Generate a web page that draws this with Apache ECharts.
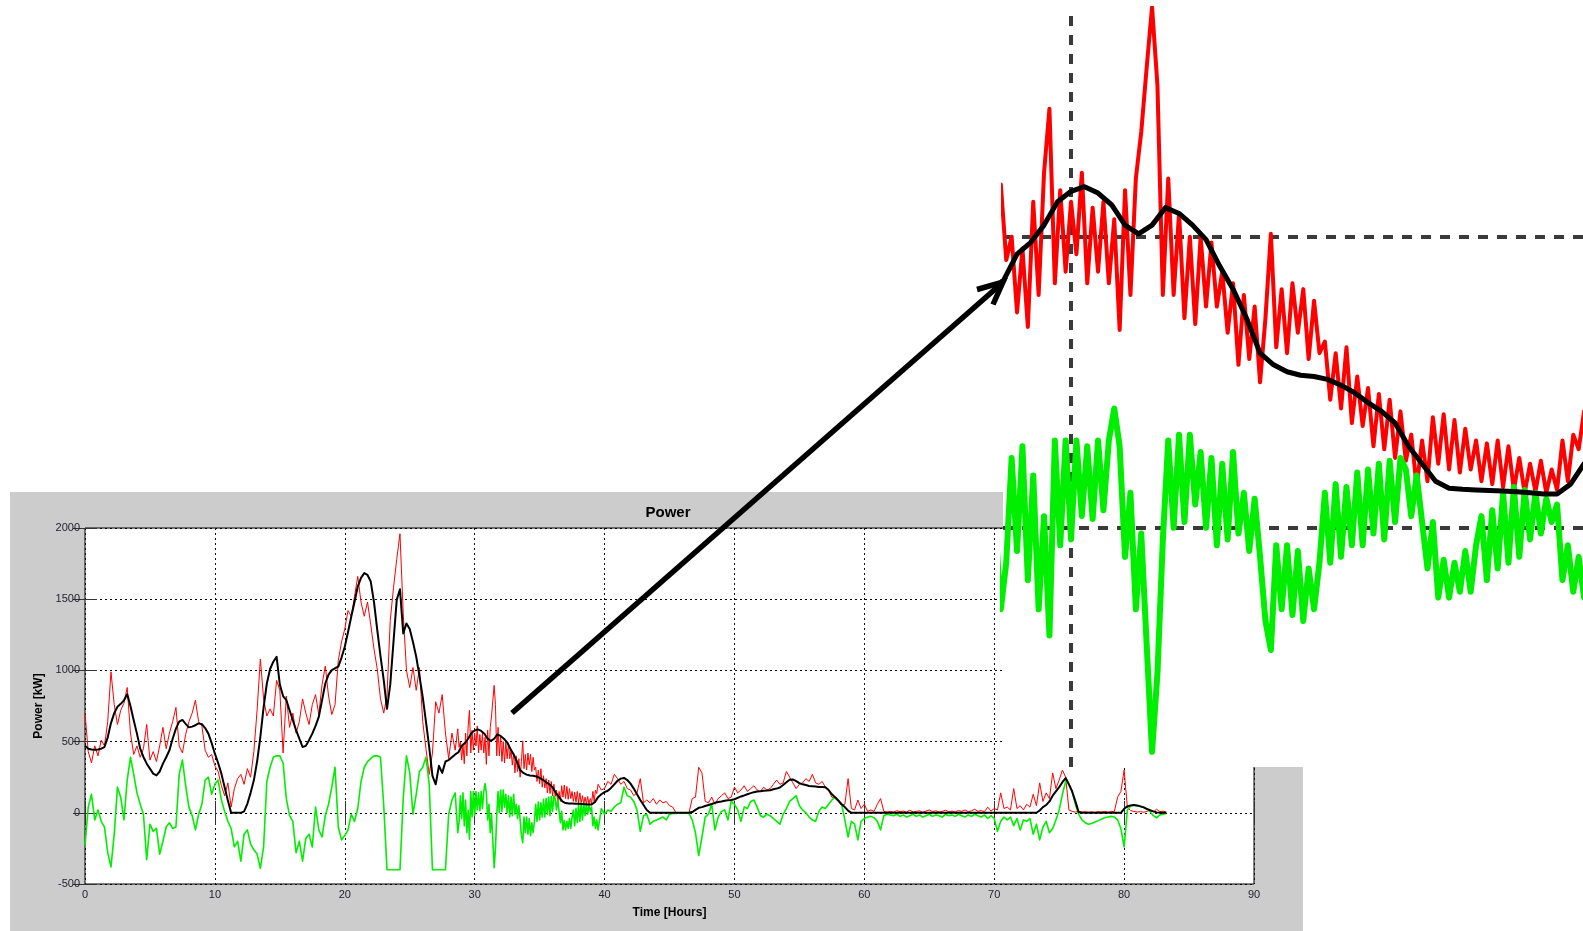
<!DOCTYPE html>
<html>
<head>
<meta charset="utf-8">
<title>Power</title>
<script src="https://cdn.jsdelivr.net/npm/echarts@6.0.0/dist/echarts.min.js"></script>
<style>
  html, body { margin: 0; padding: 0; background: #ffffff; }
  #chart { width: 1583px; height: 931px; }
</style>
</head>
<body>
<div id="chart"></div>
<script>
// Coarse record: one value every 15 minutes (rows of two hours).
const STEP_HOURS = 0.25;

// Measured power [kW].
const redPower = [
  700, 430, 350, 470, 400, 510, 470, 640,      // 0 h
  990, 760, 620, 720, 770, 880, 560, 410,      // 2 h
  470, 390, 450, 620, 370, 430, 360, 470,      // 4 h
  600, 450, 560, 640, 740, 470, 420, 550,      // 6 h
  640, 700, 790, 640, 610, 440, 390, 410,      // 8 h
  330, 290, 190, 120, 210, 40, 170, 240,       // 10 h
  270, 200, 310, 250, 430, 720, 1080, 800,     // 12 h
  680, 730, 680, 930, 860, 420, 820, 600,      // 14 h
  700, 560, 640, 800, 700, 620, 760, 830,      // 16 h
  690, 900, 1030, 820, 690, 760, 1070, 1200,   // 18 h
  1290, 1420, 1380, 1520, 1660, 1480, 1380, 1480, // 20 h
  1320, 1150, 1010, 800, 700, 820, 1350, 1580, // 22 h
  1780, 1960, 1400, 1000, 880, 1020, 860, 1020, // 24 h
  640, 450, 270, 420, 780, 700, 830, 560,      // 26 h
  380, 560, 440, 590, 420, 560, 730, 480,      // 28 h
  560, 440, 600, 400, 520, 640, 906, 580,      // 30 h
  500, 450, 420, 350, 330, 280, 330, 490,      // 32 h
  380, 350, 300, 250, 230, 210, 190, 170,      // 34 h
  150, 120, 140, 170, 150, 130, 140, 110,      // 36 h
  120, 90, 100, 130, 110, 160, 190, 160,       // 38 h
  170, 220, 200, 270, 240, 200, 220, 170,      // 40 h
  160, 120, 140, 240, 70, 90, 70, 100,         // 42 h
  60, 90, 70, 80, 50, 40, 0, 0,                // 44 h
  0, 0, 0, 100, 110, 320, 280, 80,             // 46 h
  70, 110, 60, 100, 120, 140, 100, 110,        // 48 h
  180, 140, 160, 190, 150, 170, 190, 160,      // 50 h
  150, 180, 160, 170, 200, 230, 200, 210,      // 52 h
  290, 250, 210, 170, 200, 210, 240, 220,      // 54 h
  270, 210, 200, 220, 180, 160, 110, 100,      // 56 h
  80, 50, 60, 240, 30, 20, 90, 30,             // 58 h
  60, 10, 20, 10, 60, 100, 10, 5,              // 60 h
  10, 5, 15, 8, 12, 5, 18, 6,                  // 62 h
  10, 14, 4, 12, 20, 8, 14, 6,                 // 64 h
  10, 18, 8, 12, 6, 16, 10, 20,                // 66 h
  8, 14, 25, 10, 16, 8, 40, 12,                // 68 h
  30, 20, 140, 30, 40, 20, 170, 30,            // 70 h
  50, 20, 60, 40, 130, 50, 210, 80,            // 72 h
  140, 100, 280, 170, 230, 300, 250, 20,       // 74 h
  10, 5, 10, 5, 8, 4, 6, 3,                    // 76 h
  8, 5, 10, 4, 8, 10, 110, 150,                // 78 h
  300, 40, 15, 10, 5, 8, 4, 10,                // 80 h
  20, 6, 25, 8, 12, 5                          // 82 h
];

// Difference power [kW], limited to +/-400.
const greenPower = [
  -230, 40, 130, -50, 20, -60, -100, -280,     // 0 h
  -380, -150, 180, 110, -50, 230, 390, 270,    // 2 h
  140, 60, -10, -330, -80, -130, -110, -290,   // 4 h
  -200, -100, -70, -110, -100, 270, 370, 190,  // 6 h
  40, -20, -120, -10, 60, 230, 250, 130,       // 8 h
  200, 230, 90, 10, -60, -110, -240, -200,     // 10 h
  -340, -150, -120, -220, -260, -290, -390, -240, // 12 h
  220, 320, 390, 400, 400, 350, 100, -20,      // 14 h
  -60, -280, -200, -340, -180, -150, -240, 40, // 16 h
  -120, -170, -20, 60, 180, 320, -100, -190,   // 18 h
  -160, -120, -10, -60, 30, 220, 320, 360,     // 20 h
  380, 400, 400, 390, 50, -400, -400, -400,    // 22 h
  -400, -400, 100, 400, 280, -10, 130, 290,    // 24 h
  320, 390, 200, -400, -400, -400, -400, -400, // 26 h
  -10, 90, 140, -120, 130, 100, -130, 140,     // 28 h
  90, 130, 110, 150, -10, -300, -380, 40,      // 30 h
  140, 120, 80, 110, 60, 80, -90, -180,        // 32 h
  -100, -80, -50, 40, 60, 80, 110, 130,        // 34 h
  180, 100, 60, -60, -90, -100, -80, -30,      // 36 h
  20, 40, -50, -70, -60, -40, 10, 30,          // 38 h
  -10, 20, 10, 40, 60, 70, 180, 120,           // 40 h
  110, 80, 20, -130, -20, -10, -80, -60,       // 42 h
  -50, -40, -30, -50, -10, -5, -5, 0,          // 44 h
  -5, 0, -5, -50, -140, -300, -170, -30,       // 46 h
  -10, 60, -120, -30, 10, 20, -50, 80,         // 48 h
  60, 20, -60, 40, 30, 80, 90, 40,             // 50 h
  -20, -30, -10, -20, -40, -60, -80, -10,      // 52 h
  30, 80, 100, 120, 50, 20, 0, -30,            // 54 h
  -50, -60, 10, 40, 30, 60, 90, 110,           // 56 h
  90, 60, -50, -170, -60, -80, -190, -60,      // 58 h
  -40, -30, -25, -35, -60, -120, -20, -10,     // 60 h
  -15, -20, -10, -25, -15, -30, -20, -10,      // 62 h
  -25, -15, -30, -20, -10, -25, -15, -20,      // 64 h
  -30, -10, -20, -15, -25, -10, -20, -30,      // 66 h
  -15, -25, -10, -20, -30, -15, -40, -20,      // 68 h
  -40, -130, -60, -30, -50, -30, -90, -40,     // 70 h
  -120, -50, -60, -40, -150, -80, -190, -100,  // 72 h
  -60, -140, -110, -50, 20, 130, 220, 200,     // 74 h
  150, 60, -10, -50, -70, -80, -75, -65,       // 76 h
  -55, -45, -35, -30, -25, -30, -50, -110,     // 78 h
  -240, 20, 50, 55, 50, 45, 40, 25,            // 80 h
  10, -20, -35, -15, -10, -5                   // 82 h
];

// Smoothed power reference [kW].
const blackPower = [
  470, 450, 444, 442, 444, 450, 462, 530,      // 0 h
  630, 700, 745, 765, 790, 833, 750, 650,      // 2 h
  556, 450, 392, 345, 310, 275, 263, 290,      // 4 h
  345, 390, 439, 520, 591, 640, 652, 625,      // 6 h
  600, 605, 615, 628, 622, 595, 556, 490,      // 8 h
  415, 350, 275, 180, 87, 0, 0, 0,             // 10 h
  0, 10, 63, 140, 228, 360, 533, 740,          // 12 h
  908, 1010, 1061, 1096, 900, 820, 791, 720,   // 14 h
  650, 580, 521, 462, 470, 510, 556, 610,      // 16 h
  674, 790, 908, 970, 1002, 1015, 1026, 1090,  // 18 h
  1166, 1270, 1378, 1480, 1589, 1650, 1683, 1670, // 20 h
  1624, 1480, 1284, 1100, 932, 730, 900, 1200, // 22 h
  1495, 1570, 1260, 1330, 1290, 1200, 1096, 960, // 24 h
  814, 640, 462, 260, 200, 330, 280, 360,      // 26 h
  370, 390, 410, 425, 470, 490, 520, 560,      // 28 h
  578, 586, 575, 555, 520, 505, 520, 550,      // 30 h
  540, 520, 495, 450, 410, 360, 300, 280,      // 32 h
  268, 262, 260, 255, 245, 232, 215, 200,      // 34 h
  180, 140, 110, 80, 68, 66, 65, 64,           // 36 h
  63, 62, 60, 58, 58, 75, 110, 130,            // 38 h
  145, 155, 175, 200, 225, 240, 245, 230,      // 40 h
  205, 170, 130, 90, 55, 20, 0, 0,             // 42 h
  0, 0, 0, 0, 0, 0, 0, 0,                      // 44 h
  0, 0, 0, 5, 20, 35, 40, 48,                  // 46 h
  55, 62, 70, 76, 80, 85, 88, 90,              // 48 h
  95, 105, 115, 122, 130, 138, 145, 150,       // 50 h
  152, 155, 156, 158, 165, 170, 178, 195,      // 52 h
  215, 232, 234, 222, 208, 200, 195, 188,      // 54 h
  186, 184, 182, 181, 180, 160, 130, 110,      // 56 h
  85, 60, 40, 15, 0, 0, 0, 0,                  // 58 h
  0, 0, 0, 0, 0, 0, 0, 0,                      // 60 h
  0, 0, 0, 0, 0, 0, 0, 0,                      // 62 h
  0, 0, 0, 0, 0, 0, 0, 0,                      // 64 h
  0, 0, 0, 0, 0, 0, 0, 0,                      // 66 h
  0, 0, 0, 0, 0, 0, 0, 0,                      // 68 h
  0, 0, 0, 0, 0, 0, 0, 0,                      // 70 h
  0, 0, 0, 0, 0, 0, 16, 40,                    // 72 h
  55, 80, 120, 150, 180, 215, 244, 200,        // 74 h
  150, 80, 5, 0, 0, 0, 0, 0,                   // 76 h
  0, 0, 0, 0, 0, 0, 0, 0,                      // 78 h
  28, 45, 52, 54, 52, 45, 38, 28,              // 80 h
  18, 10, 3, 0, 0, 0                           // 82 h
];

// Fine record between 28.7 h and 39.5 h: one value every 6 minutes (rows of one hour).
const DETAIL_START = 28.7;
const DETAIL_STEP = 0.1;

const redDetail = [
  590, 460, 500, 370, 480, 345, 560, 400, 610, 720,   // 28.7 h
  420, 580, 440, 560, 470, 610, 420, 550, 440, 560,   // 29.7 h
  420, 530, 340, 580, 400, 600, 680, 790, 895, 760,   // 30.7 h
  400, 600, 400, 540, 360, 500, 350, 500, 380, 490,   // 31.7 h
  380, 440, 335, 420, 280, 400, 290, 380, 250, 360,   // 32.7 h
  505, 310, 410, 300, 420, 335, 410, 290, 390, 300,   // 33.7 h
  320, 220, 300, 205, 310, 180, 260, 175, 240, 140,   // 34.7 h
  230, 135, 220, 120, 200, 115, 160, 70, 150, 80,     // 35.7 h
  190, 110, 195, 100, 185, 95, 170, 100, 150, 80,     // 36.7 h
  145, 75, 150, 70, 140, 65, 120, 60, 110, 62,        // 37.7 h
  115, 60, 100, 65, 150, 80, 160, 135, 200            // 38.7 h
];

const greenDetail = [
  -140, -60, 120, -40, 140, -90, 90, -140, 20, -185,  // 28.7 h
  150, -30, 150, -20, 150, 20, 140, 15, 150, 30,      // 29.7 h
  150, 205, 140, -50, 60, -140, -10, -200, -385, -250, // 30.7 h
  -20, 150, 0, 160, 10, 160, 40, 130, 0, 120,         // 31.7 h
  -30, 110, -20, 130, -10, 60, -40, 50, -50, -160,    // 32.7 h
  -210, -30, -140, -30, -150, -40, -160, -70, -140, -60, // 33.7 h
  60, -60, 75, -50, 70, -30, 95, -30, 100, -10,       // 34.7 h
  110, -20, 115, 10, 120, 100, 20, 90, 10, -70,       // 35.7 h
  10, -120, -55, -120, -60, -110, -40, -110, -30, 20, // 36.7 h
  -90, 30, -70, 60, -60, 70, -50, 65, -20, 60,        // 37.7 h
  -10, 50, 10, 40, -90, -30, -110, -50, -120          // 38.7 h
];

// Axis ticks of the main plot.
const hourTicks = [0, 10, 20, 30, 40, 50, 60, 70, 80, 90];
const powerTicks = [-500, 0, 500, 1000, 1500, 2000];

// Window shown in the magnified view, and its grid lines.
const detailHours = [28.74, 39.48];
const detailPower = [-411, 893];
const detailGridHours = [30];
const detailGridPower = [500, 0];

const FONT = '"Liberation Sans", Arial, Helvetica, sans-serif';
const RED = '#ff0000', GREEN = '#00ee00', BLACK = '#000000';

// Coarse samples outside the fine window, fine samples inside it.
function combine(coarse, fine) {
  const fineEnd = DETAIL_START + (fine.length - 1) * DETAIL_STEP;
  const out = [];
  coarse.forEach((v, i) => { const t = i * STEP_HOURS; if (t < DETAIL_START - 1e-9) out.push([t, v]); });
  fine.forEach((v, i) => out.push([+(DETAIL_START + i * DETAIL_STEP).toFixed(2), v]));
  coarse.forEach((v, i) => { const t = i * STEP_HOURS; if (t > fineEnd + 1e-9) out.push([t, v]); });
  return out;
}

const redData = combine(redPower, redDetail);
const greenData = combine(greenPower, greenDetail);
const blackData = blackPower.map((v, i) => [i * STEP_HOURS, v]);

const hourStep = hourTicks[1] - hourTicks[0];
const powerStep = powerTicks[1] - powerTicks[0];

const mainAxisCommon = {
  type: 'value',
  gridIndex: 0,
  axisLine: { show: false },
  axisTick: { show: true, inside: true, length: 12, lineStyle: { color: '#333', width: 1 } }
};

const lineSeries = (name, data, color, width, axis, z, zlevel) => ({
  name, type: 'line', data,
  xAxisIndex: axis, yAxisIndex: axis,
  showSymbol: false, symbol: 'none', sampling: null,
  lineStyle: { color, width, join: 'round' },
  z, zlevel, silent: true, animation: false
});

const chart = echarts.init(document.getElementById('chart'), null, { renderer: 'canvas', width: 1583, height: 931 });

chart.setOption({
  animation: false,
  backgroundColor: '#ffffff',
  title: {
    text: 'Power',
    left: 668, top: 505, textAlign: 'center', padding: 0,
    textStyle: { fontFamily: FONT, fontSize: 15, fontWeight: 'bold', color: '#000' }
  },
  grid: [
    { left: 85, top: 528, width: 1169, height: 356, show: true, backgroundColor: '#ffffff',
      borderColor: '#000', borderWidth: 1, containLabel: false, outerBoundsMode: 'none' },
    { left: 1003, top: 8, width: 580, height: 759, show: false, containLabel: false,
      outerBoundsMode: 'none', zlevel: 1 }
  ],
  xAxis: [
    Object.assign({}, mainAxisCommon, {
      position: 'bottom',
      min: hourTicks[0], max: hourTicks[hourTicks.length - 1], interval: hourStep,
      axisLabel: { show: true, margin: 5, fontFamily: FONT, fontSize: 11, color: '#1e1e2a',
        formatter: v => String(v) },
      splitLine: { show: true, lineStyle: { color: '#111', width: 1, type: [2, 3] } },
      name: 'Time [Hours]', nameLocation: 'middle', nameGap: 28.5,
      nameTextStyle: { fontFamily: FONT, fontSize: 12, fontWeight: 'bold', color: '#000', verticalAlign: 'middle' }
    }),
    Object.assign({}, mainAxisCommon, {
      position: 'top',
      min: hourTicks[0], max: hourTicks[hourTicks.length - 1], interval: hourStep,
      axisLabel: { show: false }, splitLine: { show: false }
    }),
    { type: 'value', gridIndex: 1, show: false, min: detailHours[0], max: detailHours[1], zlevel: 1 }
  ],
  yAxis: [
    Object.assign({}, mainAxisCommon, {
      position: 'left',
      min: powerTicks[0], max: powerTicks[powerTicks.length - 1], interval: powerStep,
      axisLabel: { show: true, margin: 5, fontFamily: FONT, fontSize: 11, color: '#1e1e2a',
        formatter: v => String(v) },
      splitLine: { show: true, lineStyle: { color: '#000', width: 1, type: [2, 3] } },
      name: 'Power [kW]', nameLocation: 'middle', nameGap: 39.5, nameRotate: 90,
      nameTextStyle: { fontFamily: FONT, fontSize: 12, fontWeight: 'bold', color: '#000', verticalAlign: 'middle' }
    }),
    Object.assign({}, mainAxisCommon, {
      position: 'right',
      min: powerTicks[0], max: powerTicks[powerTicks.length - 1], interval: powerStep,
      axisLabel: { show: false }, splitLine: { show: false }
    }),
    { type: 'value', gridIndex: 1, show: false, min: detailPower[0], max: detailPower[1], zlevel: 1 }
  ],
  graphic: [
    // grey figure panel behind the axes
    { type: 'rect', zlevel: 0, z: -1, silent: true,
      shape: { x: 10, y: 492, width: 1293, height: 439 }, style: { fill: '#cccccc' } },
    // white backing of the magnified view
    { type: 'rect', zlevel: 1, z: 0, silent: true,
      shape: { x: 1003, y: 0, width: 580, height: 767 }, style: { fill: '#ffffff' } },
    // arrow pointing from the plot to the magnified view
    { type: 'line', zlevel: 2, z: 10, silent: true,
      shape: { x1: 512, y1: 713, x2: 1001, y2: 284 },
      style: { stroke: '#000', lineWidth: 5.5, lineCap: 'butt' } },
    { type: 'polyline', zlevel: 2, z: 10, silent: true,
      shape: { points: [[977, 289.5], [1003, 282], [993, 304.5]] },
      style: { stroke: '#000', lineWidth: 5.5, lineJoin: 'miter', lineCap: 'butt', fill: null } }
  ],
  series: [
    lineSeries('Power', redData, RED, 1, 0, 2, 0),
    lineSeries('Difference', greenData, GREEN, 1.6, 0, 3, 0),
    lineSeries('Smoothed', blackData, BLACK, 2, 0, 4, 0),
    {
      name: 'detail grid', type: 'line', data: [],
      xAxisIndex: 2, yAxisIndex: 2, zlevel: 1, z: 1, silent: true,
      showSymbol: false, lineStyle: { opacity: 0 },
      markLine: {
        silent: true, symbol: ['none', 'none'], animation: false,
        zlevel: 1, z: 1,
        label: { show: false },
        lineStyle: { color: '#3a3a3a', width: 4, type: [10, 9] },
        data: detailGridHours.map(h => ({ xAxis: h })).concat(detailGridPower.map(p => ({ yAxis: p })))
      }
    },
    lineSeries('Power detail', redData, RED, 4, 2, 3, 1),
    lineSeries('Difference detail', greenData, GREEN, 6, 2, 4, 1),
    lineSeries('Smoothed detail', blackData, BLACK, 5, 2, 5, 1)
  ]
});
</script>
</body>
</html>
